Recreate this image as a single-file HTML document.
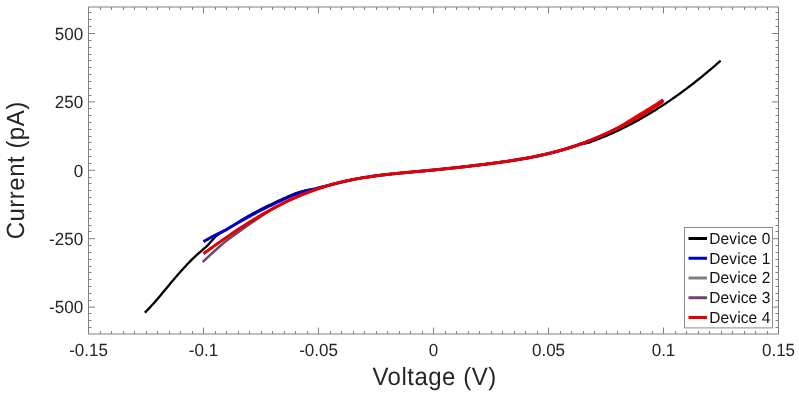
<!DOCTYPE html>
<html><head><meta charset="utf-8"><style>
html,body{margin:0;padding:0;background:#fff;}
body{width:799px;height:394px;overflow:hidden;position:relative;}
svg{position:absolute;left:0;top:0;font-family:"Liberation Sans",sans-serif;will-change:transform;text-rendering:geometricPrecision;}
</style></head><body>
<svg width="799" height="394" viewBox="0 0 799 394">
<rect x="88.5" y="7.0" width="690.0" height="327.0" fill="none" stroke="#808080" stroke-width="1"/>
<path d="M100.50,334.00v-3.00M100.50,7.00v3.00M111.50,334.00v-3.00M111.50,7.00v3.00M123.50,334.00v-3.00M123.50,7.00v3.00M134.50,334.00v-3.00M134.50,7.00v3.00M146.50,334.00v-3.00M146.50,7.00v3.00M157.50,334.00v-3.00M157.50,7.00v3.00M169.50,334.00v-3.00M169.50,7.00v3.00M180.50,334.00v-3.00M180.50,7.00v3.00M192.50,334.00v-3.00M192.50,7.00v3.00M203.50,334.00v-6.50M203.50,7.00v6.50M215.50,334.00v-3.00M215.50,7.00v3.00M226.50,334.00v-3.00M226.50,7.00v3.00M238.50,334.00v-3.00M238.50,7.00v3.00M249.50,334.00v-3.00M249.50,7.00v3.00M261.50,334.00v-3.00M261.50,7.00v3.00M272.50,334.00v-3.00M272.50,7.00v3.00M284.50,334.00v-3.00M284.50,7.00v3.00M295.50,334.00v-3.00M295.50,7.00v3.00M307.50,334.00v-3.00M307.50,7.00v3.00M318.50,334.00v-6.50M318.50,7.00v6.50M330.50,334.00v-3.00M330.50,7.00v3.00M341.50,334.00v-3.00M341.50,7.00v3.00M353.50,334.00v-3.00M353.50,7.00v3.00M364.50,334.00v-3.00M364.50,7.00v3.00M376.50,334.00v-3.00M376.50,7.00v3.00M387.50,334.00v-3.00M387.50,7.00v3.00M399.50,334.00v-3.00M399.50,7.00v3.00M410.50,334.00v-3.00M410.50,7.00v3.00M422.50,334.00v-3.00M422.50,7.00v3.00M433.50,334.00v-6.50M433.50,7.00v6.50M445.50,334.00v-3.00M445.50,7.00v3.00M456.50,334.00v-3.00M456.50,7.00v3.00M468.50,334.00v-3.00M468.50,7.00v3.00M479.50,334.00v-3.00M479.50,7.00v3.00M491.50,334.00v-3.00M491.50,7.00v3.00M502.50,334.00v-3.00M502.50,7.00v3.00M514.50,334.00v-3.00M514.50,7.00v3.00M525.50,334.00v-3.00M525.50,7.00v3.00M537.50,334.00v-3.00M537.50,7.00v3.00M548.50,334.00v-6.50M548.50,7.00v6.50M560.50,334.00v-3.00M560.50,7.00v3.00M571.50,334.00v-3.00M571.50,7.00v3.00M583.50,334.00v-3.00M583.50,7.00v3.00M594.50,334.00v-3.00M594.50,7.00v3.00M606.50,334.00v-3.00M606.50,7.00v3.00M617.50,334.00v-3.00M617.50,7.00v3.00M629.50,334.00v-3.00M629.50,7.00v3.00M640.50,334.00v-3.00M640.50,7.00v3.00M652.50,334.00v-3.00M652.50,7.00v3.00M663.50,334.00v-6.50M663.50,7.00v6.50M675.50,334.00v-3.00M675.50,7.00v3.00M686.50,334.00v-3.00M686.50,7.00v3.00M698.50,334.00v-3.00M698.50,7.00v3.00M709.50,334.00v-3.00M709.50,7.00v3.00M721.50,334.00v-3.00M721.50,7.00v3.00M732.50,334.00v-3.00M732.50,7.00v3.00M744.50,334.00v-3.00M744.50,7.00v3.00M755.50,334.00v-3.00M755.50,7.00v3.00M767.50,334.00v-3.00M767.50,7.00v3.00M88.50,327.50h3.00M778.50,327.50h-3.00M88.50,320.50h3.00M778.50,320.50h-3.00M88.50,313.50h3.00M778.50,313.50h-3.00M88.50,307.10h6.50M778.50,307.10h-6.50M88.50,300.50h3.00M778.50,300.50h-3.00M88.50,293.50h3.00M778.50,293.50h-3.00M88.50,286.50h3.00M778.50,286.50h-3.00M88.50,279.50h3.00M778.50,279.50h-3.00M88.50,272.50h3.00M778.50,272.50h-3.00M88.50,266.50h3.00M778.50,266.50h-3.00M88.50,259.50h3.00M778.50,259.50h-3.00M88.50,252.50h3.00M778.50,252.50h-3.00M88.50,245.50h3.00M778.50,245.50h-3.00M88.50,238.70h6.50M778.50,238.70h-6.50M88.50,231.50h3.00M778.50,231.50h-3.00M88.50,225.50h3.00M778.50,225.50h-3.00M88.50,218.50h3.00M778.50,218.50h-3.00M88.50,211.50h3.00M778.50,211.50h-3.00M88.50,204.50h3.00M778.50,204.50h-3.00M88.50,197.50h3.00M778.50,197.50h-3.00M88.50,190.50h3.00M778.50,190.50h-3.00M88.50,183.50h3.00M778.50,183.50h-3.00M88.50,177.50h3.00M778.50,177.50h-3.00M88.50,170.30h6.50M778.50,170.30h-6.50M88.50,163.50h3.00M778.50,163.50h-3.00M88.50,156.50h3.00M778.50,156.50h-3.00M88.50,149.50h3.00M778.50,149.50h-3.00M88.50,142.50h3.00M778.50,142.50h-3.00M88.50,136.50h3.00M778.50,136.50h-3.00M88.50,129.50h3.00M778.50,129.50h-3.00M88.50,122.50h3.00M778.50,122.50h-3.00M88.50,115.50h3.00M778.50,115.50h-3.00M88.50,108.50h3.00M778.50,108.50h-3.00M88.50,101.90h6.50M778.50,101.90h-6.50M88.50,95.50h3.00M778.50,95.50h-3.00M88.50,88.50h3.00M778.50,88.50h-3.00M88.50,81.50h3.00M778.50,81.50h-3.00M88.50,74.50h3.00M778.50,74.50h-3.00M88.50,67.50h3.00M778.50,67.50h-3.00M88.50,60.50h3.00M778.50,60.50h-3.00M88.50,54.50h3.00M778.50,54.50h-3.00M88.50,47.50h3.00M778.50,47.50h-3.00M88.50,40.50h3.00M778.50,40.50h-3.00M88.50,33.50h6.50M778.50,33.50h-6.50M88.50,26.50h3.00M778.50,26.50h-3.00M88.50,19.50h3.00M778.50,19.50h-3.00M88.50,12.50h3.00M778.50,12.50h-3.00" stroke="#808080" stroke-width="1" fill="none"/>
<g transform="translate(88.50,355.80) scale(1,1.0405)"><text x="0" y="0" font-size="17" text-anchor="middle" fill="#262626">-0.15</text></g>
<g transform="translate(203.50,355.80) scale(1,1.0405)"><text x="0" y="0" font-size="17" text-anchor="middle" fill="#262626">-0.1</text></g>
<g transform="translate(318.50,355.80) scale(1,1.0405)"><text x="0" y="0" font-size="17" text-anchor="middle" fill="#262626">-0.05</text></g>
<g transform="translate(433.50,355.80) scale(1,1.0405)"><text x="0" y="0" font-size="17" text-anchor="middle" fill="#262626">0</text></g>
<g transform="translate(548.50,355.80) scale(1,1.0405)"><text x="0" y="0" font-size="17" text-anchor="middle" fill="#262626">0.05</text></g>
<g transform="translate(663.50,355.80) scale(1,1.0405)"><text x="0" y="0" font-size="17" text-anchor="middle" fill="#262626">0.1</text></g>
<g transform="translate(778.50,355.80) scale(1,1.0405)"><text x="0" y="0" font-size="17" text-anchor="middle" fill="#262626">0.15</text></g>
<g transform="translate(83.10,39.70) scale(1,1.0405)"><text x="0" y="0" font-size="17" text-anchor="end" fill="#262626">500</text></g>
<g transform="translate(83.10,108.10) scale(1,1.0405)"><text x="0" y="0" font-size="17" text-anchor="end" fill="#262626">250</text></g>
<g transform="translate(83.10,176.50) scale(1,1.0405)"><text x="0" y="0" font-size="17" text-anchor="end" fill="#262626">0</text></g>
<g transform="translate(83.10,244.90) scale(1,1.0405)"><text x="0" y="0" font-size="17" text-anchor="end" fill="#262626">-250</text></g>
<g transform="translate(83.10,313.30) scale(1,1.0405)"><text x="0" y="0" font-size="17" text-anchor="end" fill="#262626">-500</text></g>
<g transform="translate(434.50,384.70) scale(1,1.0405)"><text x="0" y="0" font-size="24" text-anchor="middle" letter-spacing="0.5" fill="#262626">Voltage (V)</text></g>
<g transform="translate(24.00,170.30) rotate(-90) scale(1,1.0405)"><text x="0" y="0" font-size="24" text-anchor="middle" letter-spacing="0.5" fill="#262626">Current (pA)</text></g>
<path d="M144.80,312.69 L146.30,311.20 L147.80,309.67 L149.30,308.09 L150.80,306.48 L152.30,304.83 L153.80,303.15 L155.30,301.44 L156.80,299.71 L158.30,297.96 L159.80,296.19 L161.30,294.41 L162.80,292.61 L164.30,290.81 L165.80,289.01 L167.30,287.21 L168.80,285.41 L170.30,283.61 L171.80,281.83 L173.30,280.05 L174.80,278.29 L176.30,276.54 L177.80,274.80 L179.30,273.08 L180.80,271.38 L182.30,269.71 L183.80,268.05 L185.30,266.42 L186.80,264.82 L188.30,263.24 L189.80,261.69 L191.30,260.18 L192.80,258.69 L194.30,257.25 L195.80,255.83 L197.30,254.46 L198.80,253.11 L200.30,251.79 L201.80,250.51 L203.30,249.24 L204.80,248.01 L206.30,246.69 L207.80,245.17 L209.30,243.52 L210.80,241.81 L212.30,240.12 L213.80,238.48 L215.30,236.94 L216.80,235.58 L218.30,234.38 L219.80,233.35 L221.30,232.48 L222.80,231.45 L224.30,230.73 L225.80,229.92 L227.30,229.02 L228.80,228.13 L230.30,227.24 L231.80,226.36 L233.30,225.46 L234.80,224.51 L236.30,223.54 L237.80,222.54 L239.30,221.54 L240.80,220.55 L242.30,219.59 L243.80,218.66 L245.30,217.77 L246.80,216.92 L248.30,216.08 L249.80,215.24 L251.30,214.42 L252.80,213.60 L254.30,212.79 L255.80,211.99 L257.30,211.20 L258.80,210.41 L260.30,209.63 L261.80,208.87 L263.30,208.11 L264.80,207.36 L266.30,206.61 L267.80,205.88 L269.30,205.16 L270.80,204.45 L272.30,203.75 L273.80,203.05 L275.30,202.36 L276.80,201.63 L278.30,200.91 L279.80,200.20 L281.30,199.50 L282.80,198.81 L284.30,198.13 L285.80,197.46 L287.30,196.80 L288.80,196.15 L290.30,195.50 L291.80,194.87 L293.30,194.25 L294.80,193.64 L296.30,193.12 L297.80,192.63 L299.30,192.14 L300.80,191.67 L302.30,191.24 L303.80,190.83 L305.30,190.47 L306.80,190.16 L308.30,189.88 L309.80,189.61 L311.30,189.34 L312.80,189.09 L314.30,188.84 L315.80,188.53 L317.30,188.18 L318.80,187.81 L320.30,187.43 L321.80,187.04 L323.30,186.67 L324.80,186.31 L326.30,185.90 L327.80,185.50 L329.30,185.10 L330.80,184.72 L332.30,184.35 L333.80,183.98 L335.30,183.61 L336.80,183.22 L338.30,182.84 L339.80,182.47 L341.30,182.10 L342.80,181.75 L344.30,181.41 L345.80,181.07 L347.30,180.74 L348.80,180.42 L350.30,180.11 L351.80,179.80 L353.30,179.51 L354.80,179.22 L356.30,178.93 L357.80,178.66 L359.30,178.39 L360.80,178.13 L362.30,177.88 L363.80,177.63 L365.30,177.39 L366.80,177.15 L368.30,176.92 L369.80,176.70 L371.30,176.48 L372.80,176.26 L374.30,176.06 L375.80,175.85 L377.30,175.65 L378.80,175.46 L380.30,175.27 L381.80,175.09 L383.30,174.91 L384.80,174.73 L386.30,174.56 L387.80,174.39 L389.30,174.22 L390.80,174.06 L392.30,173.90 L393.80,173.74 L395.30,173.58 L396.80,173.43 L398.30,173.28 L399.80,173.13 L401.30,172.99 L402.80,172.84 L404.30,172.70 L405.80,172.56 L407.30,172.42 L408.80,172.28 L410.30,172.14 L411.80,172.00 L413.30,171.87 L414.80,171.73 L416.30,171.59 L417.80,171.46 L419.30,171.32 L420.80,171.18 L422.30,171.05 L423.80,170.91 L425.30,170.77 L426.80,170.63 L428.30,170.49 L429.80,170.34 L431.30,170.20 L432.80,170.05 L434.30,169.91 L435.80,169.76 L437.30,169.61 L438.80,169.46 L440.30,169.31 L441.80,169.16 L443.30,169.00 L444.80,168.85 L446.30,168.69 L447.80,168.54 L449.30,168.38 L450.80,168.22 L452.30,168.06 L453.80,167.90 L455.30,167.73 L456.80,167.57 L458.30,167.40 L459.80,167.24 L461.30,167.07 L462.80,166.90 L464.30,166.73 L465.80,166.56 L467.30,166.39 L468.80,166.22 L470.30,166.04 L471.80,165.87 L473.30,165.69 L474.80,165.51 L476.30,165.33 L477.80,165.15 L479.30,164.97 L480.80,164.79 L482.30,164.60 L483.80,164.42 L485.30,164.23 L486.80,164.05 L488.30,163.86 L489.80,163.67 L491.30,163.48 L492.80,163.28 L494.30,163.09 L495.80,162.89 L497.30,162.69 L498.80,162.49 L500.30,162.28 L501.80,162.08 L503.30,161.87 L504.80,161.65 L506.30,161.44 L507.80,161.22 L509.30,161.00 L510.80,160.77 L512.30,160.54 L513.80,160.31 L515.30,160.07 L516.80,159.83 L518.30,159.59 L519.80,159.34 L521.30,159.08 L522.80,158.83 L524.30,158.56 L525.80,158.30 L527.30,158.02 L528.80,157.74 L530.30,157.46 L531.80,157.17 L533.30,156.88 L534.80,156.58 L536.30,156.27 L537.80,155.96 L539.30,155.64 L540.80,155.32 L542.30,154.99 L543.80,154.65 L545.30,154.31 L546.80,153.96 L548.30,153.60 L549.80,153.24 L551.30,152.87 L552.80,152.49 L554.30,152.10 L555.80,151.71 L557.30,151.30 L558.80,150.89 L560.30,150.48 L561.80,150.05 L563.30,149.62 L564.80,149.18 L566.30,148.73 L567.80,148.27 L569.30,147.80 L570.80,147.33 L572.30,146.85 L573.80,146.35 L575.30,145.86 L576.80,145.39 L578.30,144.98 L579.80,144.62 L581.30,144.28 L582.80,143.97 L584.30,143.66 L585.80,143.33 L587.30,142.97 L588.80,142.55 L590.30,142.05 L591.80,141.50 L593.30,140.95 L594.80,140.39 L596.30,139.82 L597.80,139.24 L599.30,138.65 L600.80,138.05 L602.30,137.45 L603.80,136.83 L605.30,136.21 L606.80,135.57 L608.30,134.93 L609.80,134.27 L611.30,133.61 L612.80,132.94 L614.30,132.26 L615.80,131.57 L617.30,130.87 L618.80,130.16 L620.30,129.45 L621.80,128.72 L623.30,127.98 L624.80,127.24 L626.30,126.49 L627.80,125.72 L629.30,124.95 L630.80,124.17 L632.30,123.38 L633.80,122.58 L635.30,121.77 L636.80,120.95 L638.30,120.12 L639.80,119.29 L641.30,118.44 L642.80,117.59 L644.30,116.72 L645.80,115.85 L647.30,114.97 L648.80,114.08 L650.30,113.18 L651.80,112.27 L653.30,111.35 L654.80,110.42 L656.30,109.48 L657.80,108.54 L659.30,107.58 L660.80,106.61 L662.30,105.64 L663.80,104.66 L665.30,103.67 L666.80,102.66 L668.30,101.65 L669.80,100.63 L671.30,99.60 L672.80,98.57 L674.30,97.52 L675.80,96.46 L677.30,95.40 L678.80,94.32 L680.30,93.24 L681.80,92.15 L683.30,91.04 L684.80,89.93 L686.30,88.81 L687.80,87.68 L689.30,86.54 L690.80,85.39 L692.30,84.24 L693.80,83.07 L695.30,81.90 L696.80,80.71 L698.30,79.52 L699.80,78.31 L701.30,77.10 L702.80,75.88 L704.30,74.65 L705.80,73.41 L707.30,72.16 L708.80,70.90 L710.30,69.64 L711.80,68.36 L713.30,67.07 L714.80,65.78 L716.30,64.48 L717.80,63.16 L719.30,61.84 L720.60,60.69" fill="none" stroke="#000000" stroke-width="2.30" stroke-linejoin="round"/>
<path d="M203.40,241.61 L204.90,240.77 L206.40,239.94 L207.90,239.11 L209.40,238.28 L210.90,237.46 L212.40,236.64 L213.90,235.82 L215.40,235.02 L216.90,234.29 L218.40,233.56 L219.90,232.84 L221.40,232.12 L222.90,231.40 L224.40,230.69 L225.90,229.86 L227.40,228.96 L228.90,228.07 L230.40,227.18 L231.90,226.30 L233.40,225.42 L234.90,224.55 L236.40,223.68 L237.90,222.82 L239.40,221.97 L240.90,221.12 L242.40,220.28 L243.90,219.44 L245.40,218.61 L246.90,217.76 L248.40,216.92 L249.90,216.09 L251.40,215.26 L252.90,214.45 L254.40,213.64 L255.90,212.84 L257.40,212.04 L258.90,211.26 L260.40,210.48 L261.90,209.71 L263.40,208.96 L264.90,208.21 L266.40,207.47 L267.90,206.73 L269.40,206.01 L270.90,205.30 L272.40,204.60 L273.90,203.91 L275.40,203.21 L276.90,202.48 L278.40,201.76 L279.90,201.05 L281.40,200.35 L282.90,199.66 L284.40,198.98 L285.90,198.31 L287.40,197.65 L288.90,197.00 L290.40,196.36 L291.90,195.73 L293.40,195.11 L294.90,194.50 L296.40,193.99 L297.90,193.49 L299.40,193.01 L300.90,192.54 L302.40,192.07 L303.90,191.62 L305.40,191.18 L306.90,190.80 L308.40,190.41 L309.90,190.04 L311.40,189.68 L312.90,189.33 L314.40,188.99 L315.90,188.61 L317.40,188.19 L318.90,187.79 L320.40,187.40 L321.90,187.02 L323.40,186.65 L324.90,186.28 L326.40,185.87 L327.90,185.47 L329.40,185.08 L330.90,184.69 L332.40,184.32 L333.90,183.95 L335.40,183.59 L336.90,183.20 L338.40,182.82 L339.90,182.44 L341.40,182.08 L342.90,181.73 L344.40,181.38 L345.90,181.05 L347.40,180.72 L348.90,180.40 L350.40,180.09 L351.90,179.78 L353.40,179.49 L354.90,179.20 L356.40,178.92 L357.90,178.64 L359.40,178.37 L360.90,178.11 L362.40,177.86 L363.90,177.61 L365.40,177.37 L366.90,177.14 L368.40,176.91 L369.90,176.68 L371.40,176.46 L372.90,176.25 L374.40,176.04 L375.90,175.84 L377.40,175.64 L378.90,175.45 L380.40,175.26 L381.90,175.07 L383.40,174.89 L384.90,174.72 L386.40,174.54 L387.90,174.37 L389.40,174.21 L390.90,174.04 L392.40,173.88 L393.90,173.73 L395.40,173.57 L396.90,173.42 L398.40,173.27 L399.90,173.12 L401.40,172.98 L402.90,172.83 L404.40,172.69 L405.90,172.55 L407.40,172.41 L408.90,172.27 L410.40,172.13 L411.90,171.99 L413.40,171.86 L414.90,171.72 L416.40,171.58 L417.90,171.45 L419.40,171.31 L420.90,171.17 L422.40,171.04 L423.90,170.90 L425.40,170.76 L426.90,170.62 L428.40,170.48 L429.90,170.33 L431.40,170.19 L432.90,170.04 L434.40,169.90 L435.90,169.75 L437.40,169.60 L438.90,169.45 L440.40,169.30 L441.90,169.15 L443.40,168.99 L444.90,168.84 L446.40,168.68 L447.90,168.53 L449.40,168.37 L450.90,168.21 L452.40,168.05 L453.90,167.89 L455.40,167.72 L456.90,167.56 L458.40,167.39 L459.90,167.23 L461.40,167.06 L462.90,166.89 L464.40,166.72 L465.90,166.55 L467.40,166.38 L468.90,166.20 L470.40,166.03 L471.90,165.85 L473.40,165.68 L474.90,165.50 L476.40,165.32 L477.90,165.14 L479.40,164.96 L480.90,164.78 L482.40,164.59 L483.90,164.41 L485.40,164.22 L486.90,164.03 L488.40,163.84 L489.90,163.65 L491.40,163.46 L492.90,163.27 L494.40,163.07 L495.90,162.88 L497.40,162.68 L498.90,162.47 L500.40,162.27 L501.90,162.06 L503.40,161.85 L504.90,161.64 L506.40,161.42 L507.90,161.20 L509.40,160.98 L510.90,160.76 L512.40,160.53 L513.90,160.29 L515.40,160.06 L516.90,159.82 L518.40,159.57 L519.90,159.32 L521.40,159.07 L522.90,158.81 L524.40,158.55 L525.90,158.28 L527.40,158.00 L528.90,157.73 L530.40,157.44 L531.90,157.15 L533.40,156.86 L534.90,156.56 L536.40,156.25 L537.90,155.94 L539.40,155.62 L540.90,155.30 L542.40,154.97 L543.90,154.63 L545.40,154.29 L546.90,153.94 L548.40,153.58 L549.90,153.21 L551.40,152.84 L552.90,152.46 L554.40,152.07 L555.90,151.68 L557.40,151.28 L558.90,150.87 L560.40,150.45 L561.90,150.02 L563.40,149.59 L564.90,149.15 L566.40,148.70 L567.90,148.24 L569.40,147.77 L570.90,147.30 L572.40,146.81 L573.90,146.32 L575.40,145.82 L576.90,145.31 L578.40,144.80 L579.90,144.27 L581.40,143.74 L582.90,143.20 L584.40,142.64 L585.90,142.08 L587.40,141.52 L588.90,140.94 L590.40,140.35 L591.90,139.76 L593.40,139.15 L594.90,138.54 L596.40,137.92 L597.90,137.29 L599.40,136.65 L600.90,136.01 L602.40,135.35 L603.90,134.68 L605.40,134.01 L606.90,133.33 L608.40,132.64 L609.90,131.94 L611.40,131.23 L612.90,130.51 L614.40,129.79 L615.90,129.05 L617.40,128.31 L618.90,127.56 L620.40,126.80 L621.90,126.03 L623.40,125.25 L624.90,124.47 L626.40,123.67 L627.90,122.87 L629.40,122.06 L630.90,121.24 L632.40,120.41 L633.90,119.57 L635.40,118.72 L636.90,117.87 L638.40,117.01 L639.90,116.13 L641.40,115.25 L642.90,114.36 L644.40,113.47 L645.90,112.56 L647.40,111.65 L648.90,110.71 L650.40,109.71 L651.90,108.65 L653.40,107.55 L654.90,106.42 L656.40,105.27 L657.90,104.13 L659.40,103.00 L660.90,101.90 L662.40,100.84 L663.30,100.23" fill="none" stroke="#0000c8" stroke-width="3.00" stroke-linejoin="round"/>
<path d="M202.70,261.85 L204.20,260.52 L205.70,259.14 L207.20,257.76 L208.70,256.38 L210.20,255.00 L211.70,253.63 L213.20,252.26 L214.70,250.89 L216.20,249.55 L217.70,248.22 L219.20,246.89 L220.70,245.57 L222.20,244.25 L223.70,242.94 L225.20,241.65 L226.70,240.54 L228.20,239.43 L229.70,238.32 L231.20,237.22 L232.70,236.13 L234.20,235.04 L235.70,233.95 L237.20,232.87 L238.70,231.80 L240.20,230.73 L241.70,229.65 L243.20,228.58 L244.70,227.51 L246.20,226.45 L247.70,225.40 L249.20,224.35 L250.70,223.32 L252.20,222.28 L253.70,221.26 L255.20,220.25 L256.70,219.24 L258.20,218.24 L259.70,217.25 L261.20,216.27 L262.70,215.30 L264.20,214.33 L265.70,213.38 L267.20,212.43 L268.70,211.50 L270.20,210.58 L271.70,209.70 L273.20,208.83 L274.70,207.98 L276.20,207.13 L277.70,206.29 L279.20,205.47 L280.70,204.65 L282.20,203.84 L283.70,203.05 L285.20,202.27 L286.70,201.55 L288.20,200.84 L289.70,200.14 L291.20,199.46 L292.70,198.78 L294.20,198.11 L295.70,197.45 L297.20,196.80 L298.70,196.17 L300.20,195.54 L301.70,194.92 L303.20,194.31 L304.70,193.71 L306.20,193.12 L307.70,192.54 L309.20,191.97 L310.70,191.41 L312.20,190.86 L313.70,190.32 L315.20,189.79 L316.70,189.27 L318.20,188.76 L319.70,188.25 L321.20,187.76 L322.70,187.28 L324.20,186.81 L325.70,186.34 L327.20,185.89 L328.70,185.45 L330.20,185.01 L331.70,184.59 L333.20,184.18 L334.70,183.77 L336.20,183.38 L337.70,182.99 L339.20,182.62 L340.70,182.25 L342.20,181.89 L343.70,181.54 L345.20,181.20 L346.70,180.87 L348.20,180.55 L349.70,180.23 L351.20,179.92 L352.70,179.62 L354.20,179.33 L355.70,179.05 L357.20,178.77 L358.70,178.50 L360.20,178.23 L361.70,177.98 L363.20,177.73 L364.70,177.48 L366.20,177.24 L367.70,177.01 L369.20,176.79 L370.70,176.56 L372.20,176.35 L373.70,176.14 L375.20,175.93 L376.70,175.73 L378.20,175.54 L379.70,175.35 L381.20,175.16 L382.70,174.98 L384.20,174.80 L385.70,174.62 L387.20,174.45 L388.70,174.29 L390.20,174.12 L391.70,173.96 L393.20,173.80 L394.70,173.64 L396.20,173.49 L397.70,173.34 L399.20,173.19 L400.70,173.05 L402.20,172.90 L403.70,172.76 L405.20,172.62 L406.70,172.47 L408.20,172.34 L409.70,172.20 L411.20,172.06 L412.70,171.92 L414.20,171.79 L415.70,171.65 L417.20,171.51 L418.70,171.38 L420.20,171.24 L421.70,171.10 L423.20,170.96 L424.70,170.82 L426.20,170.68 L427.70,170.54 L429.20,170.40 L430.70,170.26 L432.20,170.11 L433.70,169.97 L435.20,169.82 L436.70,169.67 L438.20,169.52 L439.70,169.37 L441.20,169.22 L442.70,169.06 L444.20,168.91 L445.70,168.76 L447.20,168.60 L448.70,168.44 L450.20,168.28 L451.70,168.12 L453.20,167.96 L454.70,167.80 L456.20,167.64 L457.70,167.47 L459.20,167.31 L460.70,167.14 L462.20,166.97 L463.70,166.80 L465.20,166.63 L466.70,166.46 L468.20,166.29 L469.70,166.11 L471.20,165.94 L472.70,165.76 L474.20,165.58 L475.70,165.40 L477.20,165.22 L478.70,165.04 L480.20,164.86 L481.70,164.68 L483.20,164.49 L484.70,164.31 L486.20,164.12 L487.70,163.93 L489.20,163.74 L490.70,163.55 L492.20,163.36 L493.70,163.16 L495.20,162.97 L496.70,162.77 L498.20,162.57 L499.70,162.37 L501.20,162.16 L502.70,161.95 L504.20,161.74 L505.70,161.52 L507.20,161.31 L508.70,161.09 L510.20,160.86 L511.70,160.63 L513.20,160.40 L514.70,160.17 L516.20,159.93 L517.70,159.69 L519.20,159.44 L520.70,159.19 L522.20,158.93 L523.70,158.67 L525.20,158.40 L526.70,158.13 L528.20,157.86 L529.70,157.58 L531.20,157.29 L532.70,157.00 L534.20,156.70 L535.70,156.40 L537.20,156.09 L538.70,155.77 L540.20,155.45 L541.70,155.12 L543.20,154.79 L544.70,154.45 L546.20,154.10 L547.70,153.75 L549.20,153.38 L550.70,153.01 L552.20,152.64 L553.70,152.26 L555.20,151.86 L556.70,151.47 L558.20,151.06 L559.70,150.64 L561.20,150.22 L562.70,149.79 L564.20,149.35 L565.70,148.91 L567.20,148.45 L568.70,147.99 L570.20,147.52 L571.70,147.04 L573.20,146.55 L574.70,146.06 L576.20,145.55 L577.70,145.04 L579.20,144.52 L580.70,143.99 L582.20,143.45 L583.70,142.90 L585.20,142.35 L586.70,141.78 L588.20,141.21 L589.70,140.63 L591.20,140.04 L592.70,139.44 L594.20,138.83 L595.70,138.21 L597.20,137.59 L598.70,136.95 L600.20,136.31 L601.70,135.66 L603.20,135.00 L604.70,134.33 L606.20,133.65 L607.70,132.96 L609.20,132.27 L610.70,131.56 L612.20,130.85 L613.70,130.13 L615.20,129.40 L616.70,128.66 L618.20,127.91 L619.70,127.16 L621.20,126.39 L622.70,125.62 L624.20,124.84 L625.70,124.04 L627.20,123.25 L628.70,122.44 L630.20,121.62 L631.70,120.80 L633.20,119.96 L634.70,119.12 L636.20,118.27 L637.70,117.41 L639.20,116.54 L640.70,115.67 L642.20,114.78 L643.70,113.89 L645.20,112.99 L646.70,112.07 L648.20,111.15 L649.70,110.20 L651.20,109.20 L652.70,108.16 L654.20,107.10 L655.70,106.02 L657.20,104.93 L658.70,103.84 L660.20,102.77 L661.70,101.72 L663.20,100.70 L663.30,100.63" fill="none" stroke="#808080" stroke-width="2.20" stroke-linejoin="round"/>
<path d="M202.70,261.85 L204.20,260.52 L205.70,259.14 L207.20,257.76 L208.70,256.38 L210.20,255.00 L211.70,253.63 L213.20,252.26 L214.70,250.89 L216.20,249.55 L217.70,248.22 L219.20,246.89 L220.70,245.57 L222.20,244.25 L223.70,242.94 L225.20,241.65 L226.70,240.54 L228.20,239.43 L229.70,238.32 L231.20,237.22 L232.70,236.13 L234.20,235.04 L235.70,233.95 L237.20,232.87 L238.70,231.80 L240.20,230.73 L241.70,229.65 L243.20,228.58 L244.70,227.51 L246.20,226.45 L247.70,225.40 L249.20,224.35 L250.70,223.32 L252.20,222.28 L253.70,221.26 L255.20,220.25 L256.70,219.24 L258.20,218.24 L259.70,217.25 L261.20,216.27 L262.70,215.30 L264.20,214.33 L265.70,213.38 L267.20,212.43 L268.70,211.50 L270.20,210.58 L271.70,209.70 L273.20,208.83 L274.70,207.98 L276.20,207.13 L277.70,206.29 L279.20,205.47 L280.70,204.65 L282.20,203.84 L283.70,203.05 L285.20,202.27 L286.70,201.55 L288.20,200.84 L289.70,200.14 L291.20,199.46 L292.70,198.78 L294.20,198.11 L295.70,197.45 L297.20,196.80 L298.70,196.17 L300.20,195.54 L301.70,194.92 L303.20,194.31 L304.70,193.71 L306.20,193.12 L307.70,192.54 L309.20,191.97 L310.70,191.41 L312.20,190.86 L313.70,190.32 L315.20,189.79 L316.70,189.27 L318.20,188.76 L319.70,188.25 L321.20,187.76 L322.70,187.28 L324.20,186.81 L325.70,186.34 L327.20,185.89 L328.70,185.45 L330.20,185.01 L331.70,184.59 L333.20,184.18 L334.70,183.77 L336.20,183.38 L337.70,182.99 L339.20,182.62 L340.70,182.25 L342.20,181.89 L343.70,181.54 L345.20,181.20 L346.70,180.87 L348.20,180.55 L349.70,180.23 L351.20,179.92 L352.70,179.62 L354.20,179.33 L355.70,179.05 L357.20,178.77 L358.70,178.50 L360.20,178.23 L361.70,177.98 L363.20,177.73 L364.70,177.48 L366.20,177.24 L367.70,177.01 L369.20,176.79 L370.70,176.56 L372.20,176.35 L373.70,176.14 L375.20,175.93 L376.70,175.73 L378.20,175.54 L379.70,175.35 L381.20,175.16 L382.70,174.98 L384.20,174.80 L385.70,174.62 L387.20,174.45 L388.70,174.29 L390.20,174.12 L391.70,173.96 L393.20,173.80 L394.70,173.64 L396.20,173.49 L397.70,173.34 L399.20,173.19 L400.70,173.05 L402.20,172.90 L403.70,172.76 L405.20,172.62 L406.70,172.47 L408.20,172.34 L409.70,172.20 L411.20,172.06 L412.70,171.92 L414.20,171.79 L415.70,171.65 L417.20,171.51 L418.70,171.38 L420.20,171.24 L421.70,171.10 L423.20,170.96 L424.70,170.82 L426.20,170.68 L427.70,170.54 L429.20,170.40 L430.70,170.26 L432.20,170.11 L433.70,169.97 L435.20,169.82 L436.70,169.67 L438.20,169.52 L439.70,169.37 L441.20,169.22 L442.70,169.06 L444.20,168.91 L445.70,168.76 L447.20,168.60 L448.70,168.44 L450.20,168.28 L451.70,168.12 L453.20,167.96 L454.70,167.80 L456.20,167.64 L457.70,167.47 L459.20,167.31 L460.70,167.14 L462.20,166.97 L463.70,166.80 L465.20,166.63 L466.70,166.46 L468.20,166.29 L469.70,166.11 L471.20,165.94 L472.70,165.76 L474.20,165.58 L475.70,165.40 L477.20,165.22 L478.70,165.04 L480.20,164.86 L481.70,164.68 L483.20,164.49 L484.70,164.31 L486.20,164.12 L487.70,163.93 L489.20,163.74 L490.70,163.55 L492.20,163.36 L493.70,163.16 L495.20,162.97 L496.70,162.77 L498.20,162.57 L499.70,162.37 L501.20,162.16 L502.70,161.95 L504.20,161.74 L505.70,161.52 L507.20,161.31 L508.70,161.09 L510.20,160.86 L511.70,160.63 L513.20,160.40 L514.70,160.17 L516.20,159.93 L517.70,159.69 L519.20,159.44 L520.70,159.19 L522.20,158.93 L523.70,158.67 L525.20,158.40 L526.70,158.13 L528.20,157.86 L529.70,157.58 L531.20,157.29 L532.70,157.00 L534.20,156.70 L535.70,156.40 L537.20,156.09 L538.70,155.77 L540.20,155.45 L541.70,155.12 L543.20,154.79 L544.70,154.45 L546.20,154.10 L547.70,153.75 L549.20,153.38 L550.70,153.01 L552.20,152.64 L553.70,152.26 L555.20,151.86 L556.70,151.47 L558.20,151.06 L559.70,150.64 L561.20,150.22 L562.70,149.79 L564.20,149.35 L565.70,148.91 L567.20,148.45 L568.70,147.99 L570.20,147.52 L571.70,147.04 L573.20,146.55 L574.70,146.06 L576.20,145.55 L577.70,145.04 L579.20,144.52 L580.70,143.99 L582.20,143.45 L583.70,142.90 L585.20,142.35 L586.70,141.78 L588.20,141.21 L589.70,140.63 L591.20,140.04 L592.70,139.44 L594.20,138.83 L595.70,138.21 L597.20,137.59 L598.70,136.95 L600.20,136.31 L601.70,135.66 L603.20,135.00 L604.70,134.33 L606.20,133.65 L607.70,132.96 L609.20,132.27 L610.70,131.56 L612.20,130.85 L613.70,130.13 L615.20,129.40 L616.70,128.66 L618.20,127.91 L619.70,127.16 L621.20,126.39 L622.70,125.62 L624.20,124.84 L625.70,124.04 L627.20,123.25 L628.70,122.44 L630.20,121.62 L631.70,120.80 L633.20,119.96 L634.70,119.12 L636.20,118.27 L637.70,117.41 L639.20,116.54 L640.70,115.67 L642.20,114.78 L643.70,113.89 L645.20,112.99 L646.70,112.07 L648.20,111.15 L649.70,110.20 L651.20,109.20 L652.70,108.16 L654.20,107.10 L655.70,106.02 L657.20,104.93 L658.70,103.84 L660.20,102.77 L661.70,101.72 L663.20,100.70 L663.30,100.63" fill="none" stroke="#6f4570" stroke-width="2.30" stroke-linejoin="round"/>
<path d="M203.50,253.67 L205.00,252.59 L206.50,251.50 L208.00,250.42 L209.50,249.34 L211.00,248.27 L212.50,247.20 L214.00,246.13 L215.50,245.06 L217.00,244.00 L218.50,242.94 L220.00,241.89 L221.50,240.84 L223.00,239.79 L224.50,238.75 L226.00,237.71 L227.50,236.68 L229.00,235.65 L230.50,234.63 L232.00,233.61 L233.50,232.60 L235.00,231.59 L236.50,230.59 L238.00,229.59 L239.50,228.60 L241.00,227.62 L242.50,226.64 L244.00,225.68 L245.50,224.71 L247.00,223.76 L248.50,222.81 L250.00,221.87 L251.50,220.93 L253.00,220.00 L254.50,219.09 L256.00,218.18 L257.50,217.27 L259.00,216.38 L260.50,215.49 L262.00,214.62 L263.50,213.75 L265.00,212.89 L266.50,212.04 L268.00,211.20 L269.50,210.37 L271.00,209.55 L272.50,208.74 L274.00,207.94 L275.50,207.14 L277.00,206.36 L278.50,205.59 L280.00,204.83 L281.50,204.08 L283.00,203.34 L284.50,202.61 L286.00,201.88 L287.50,201.17 L289.00,200.47 L290.50,199.78 L292.00,199.09 L293.50,198.42 L295.00,197.76 L296.50,197.11 L298.00,196.46 L299.50,195.83 L301.00,195.21 L302.50,194.59 L304.00,193.99 L305.50,193.39 L307.00,192.81 L308.50,192.23 L310.00,191.67 L311.50,191.12 L313.00,190.57 L314.50,190.03 L316.00,189.51 L317.50,188.99 L319.00,188.49 L320.50,187.99 L322.00,187.50 L323.50,187.03 L325.00,186.56 L326.50,186.10 L328.00,185.65 L329.50,185.22 L331.00,184.79 L332.50,184.37 L334.00,183.96 L335.50,183.56 L337.00,183.17 L338.50,182.79 L340.00,182.42 L341.50,182.06 L343.00,181.70 L344.50,181.36 L346.00,181.02 L347.50,180.70 L349.00,180.38 L350.50,180.07 L352.00,179.76 L353.50,179.47 L355.00,179.18 L356.50,178.90 L358.00,178.62 L359.50,178.36 L361.00,178.10 L362.50,177.84 L364.00,177.60 L365.50,177.35 L367.00,177.12 L368.50,176.89 L370.00,176.67 L371.50,176.45 L373.00,176.24 L374.50,176.03 L376.00,175.83 L377.50,175.63 L379.00,175.44 L380.50,175.25 L382.00,175.06 L383.50,174.88 L385.00,174.71 L386.50,174.53 L388.00,174.36 L389.50,174.20 L391.00,174.03 L392.50,173.87 L394.00,173.72 L395.50,173.56 L397.00,173.41 L398.50,173.26 L400.00,173.11 L401.50,172.97 L403.00,172.82 L404.50,172.68 L406.00,172.54 L407.50,172.40 L409.00,172.26 L410.50,172.12 L412.00,171.99 L413.50,171.85 L415.00,171.71 L416.50,171.58 L418.00,171.44 L419.50,171.30 L421.00,171.16 L422.50,171.03 L424.00,170.89 L425.50,170.75 L427.00,170.61 L428.50,170.47 L430.00,170.32 L431.50,170.18 L433.00,170.03 L434.50,169.89 L436.00,169.74 L437.50,169.59 L439.00,169.44 L440.50,169.29 L442.00,169.14 L443.50,168.98 L445.00,168.83 L446.50,168.67 L448.00,168.51 L449.50,168.36 L451.00,168.20 L452.50,168.04 L454.00,167.87 L455.50,167.71 L457.00,167.55 L458.50,167.38 L460.00,167.22 L461.50,167.05 L463.00,166.88 L464.50,166.71 L466.00,166.54 L467.50,166.37 L469.00,166.19 L470.50,166.02 L472.00,165.84 L473.50,165.67 L475.00,165.49 L476.50,165.31 L478.00,165.13 L479.50,164.95 L481.00,164.76 L482.50,164.58 L484.00,164.39 L485.50,164.21 L487.00,164.02 L488.50,163.83 L490.00,163.64 L491.50,163.45 L493.00,163.26 L494.50,163.06 L496.00,162.86 L497.50,162.66 L499.00,162.46 L500.50,162.26 L502.00,162.05 L503.50,161.84 L505.00,161.63 L506.50,161.41 L508.00,161.19 L509.50,160.97 L511.00,160.74 L512.50,160.51 L514.00,160.28 L515.50,160.04 L517.00,159.80 L518.50,159.55 L520.00,159.30 L521.50,159.05 L523.00,158.79 L524.50,158.53 L526.00,158.26 L527.50,157.99 L529.00,157.71 L530.50,157.42 L532.00,157.13 L533.50,156.84 L535.00,156.54 L536.50,156.23 L538.00,155.92 L539.50,155.60 L541.00,155.28 L542.50,154.95 L544.00,154.61 L545.50,154.26 L547.00,153.91 L548.50,153.55 L550.00,153.19 L551.50,152.82 L553.00,152.44 L554.50,152.05 L556.00,151.65 L557.50,151.25 L559.00,150.84 L560.50,150.42 L562.00,149.99 L563.50,149.56 L565.00,149.12 L566.50,148.66 L568.00,148.21 L569.50,147.74 L571.00,147.26 L572.50,146.78 L574.00,146.29 L575.50,145.79 L577.00,145.28 L578.50,144.76 L580.00,144.24 L581.50,143.70 L583.00,143.16 L584.50,142.61 L586.00,142.05 L587.50,141.48 L589.00,140.90 L590.50,140.31 L592.00,139.72 L593.50,139.11 L595.00,138.50 L596.50,137.88 L598.00,137.25 L599.50,136.61 L601.00,135.96 L602.50,135.31 L604.00,134.64 L605.50,133.97 L607.00,133.28 L608.50,132.59 L610.00,131.89 L611.50,131.18 L613.00,130.47 L614.50,129.74 L616.00,129.00 L617.50,128.26 L619.00,127.51 L620.50,126.75 L622.00,125.98 L623.50,125.20 L625.00,124.41 L626.50,123.62 L628.00,122.82 L629.50,122.00 L631.00,121.18 L632.50,120.35 L634.00,119.51 L635.50,118.67 L637.00,117.81 L638.50,116.95 L640.00,116.08 L641.50,115.19 L643.00,114.31 L644.50,113.41 L646.00,112.50 L647.50,111.59 L649.00,110.66 L650.50,109.73 L652.00,108.79 L653.50,107.84 L655.00,106.88 L656.50,105.92 L658.00,104.94 L659.50,103.96 L661.00,102.97 L662.50,101.97 L663.00,101.63" fill="none" stroke="#e40000" stroke-width="3.00" stroke-linejoin="round"/>
<path d="M613.00,130.46 L614.50,129.70 L616.00,128.91 L617.50,128.09 L619.00,127.24 L620.50,126.37 L622.00,125.48 L623.50,124.58 L625.00,123.66 L626.50,122.72 L628.00,121.78 L629.50,120.84 L631.00,119.90 L632.50,118.95 L634.00,118.02 L635.50,117.09 L637.00,116.17 L638.50,115.26 L640.00,114.38 L641.50,113.49 L643.00,112.61 L644.50,111.71 L646.00,110.80 L647.50,109.89 L649.00,108.96 L650.50,108.03 L652.00,107.09 L653.50,106.14 L655.00,105.18 L656.50,104.22 L658.00,103.24 L659.50,102.26 L661.00,101.27 L662.50,100.27 L663.00,99.93" fill="none" stroke="#e40000" stroke-width="3.00" stroke-linejoin="round"/>
<rect x="684.5" y="227.5" width="88" height="100.4" fill="#fff" stroke="#8c8c8c" stroke-width="1"/>
<path d="M688.5,238.50H707" stroke="#000000" stroke-width="3"/>
<g transform="translate(709.30,243.90) scale(1,1.0405)"><text x="0" y="0" font-size="15.5" letter-spacing="0.1" fill="#111">Device 0</text></g>
<path d="M688.5,258.25H707" stroke="#0000c8" stroke-width="3"/>
<g transform="translate(709.30,263.65) scale(1,1.0405)"><text x="0" y="0" font-size="15.5" letter-spacing="0.1" fill="#111">Device 1</text></g>
<path d="M688.5,278.00H707" stroke="#808080" stroke-width="3"/>
<g transform="translate(709.30,283.40) scale(1,1.0405)"><text x="0" y="0" font-size="15.5" letter-spacing="0.1" fill="#111">Device 2</text></g>
<path d="M688.5,297.75H707" stroke="#6f4570" stroke-width="3"/>
<g transform="translate(709.30,303.15) scale(1,1.0405)"><text x="0" y="0" font-size="15.5" letter-spacing="0.1" fill="#111">Device 3</text></g>
<path d="M688.5,317.50H707" stroke="#e40000" stroke-width="3"/>
<g transform="translate(709.30,322.90) scale(1,1.0405)"><text x="0" y="0" font-size="15.5" letter-spacing="0.1" fill="#111">Device 4</text></g>
</svg>
</body></html>
